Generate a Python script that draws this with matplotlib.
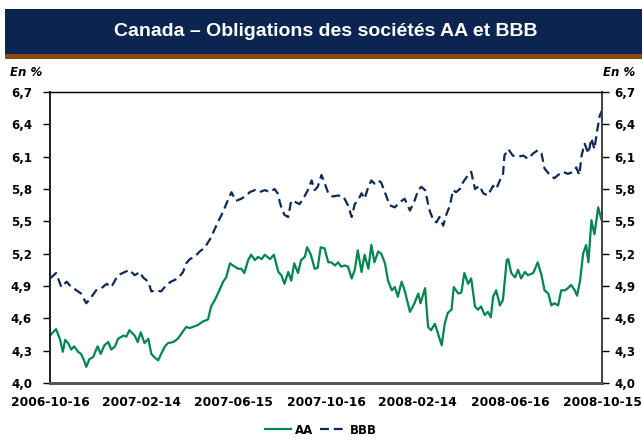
import numpy as np
import pandas as pd
import matplotlib
matplotlib.use("Agg")
import matplotlib.pyplot as plt
from matplotlib.patches import Rectangle
from matplotlib.lines import Line2D
from matplotlib.ticker import FuncFormatter

### DATA ###
start = pd.Timestamp("2006-10-16")

# days since 2006-10-16, values in %
aa_days = [0, 8, 13, 17, 20, 24, 28, 32, 37, 41, 45, 48, 52, 57, 63, 67, 72, 77, 81, 86,
           90, 97, 101, 105, 112, 116, 120, 125, 130, 134, 138, 143, 147, 152, 156, 163, 169, 174, 180, 185,
           189, 196, 202, 209, 213, 218, 224, 229, 233, 238, 242, 249, 253, 257, 262, 266, 271, 275, 280, 284,
           291, 296, 302, 306, 310, 315, 319, 323, 328, 332, 337, 340, 345, 350, 354, 358, 363, 368, 372, 377,
           381, 385, 390, 394, 399, 403, 407, 412, 416, 421, 425, 429, 434, 438, 443, 447, 452, 456, 460, 465,
           469, 476, 482, 487, 490, 496, 500, 504, 509, 513, 518, 522, 526, 531, 534, 540, 544, 548, 553, 557,
           562, 566, 570, 575, 579, 583, 586, 590, 595, 599, 604, 606, 610, 615, 619, 623, 628, 632, 639, 645,
           650, 654, 659, 663, 667, 672, 676, 681, 685, 689, 694, 697, 701, 705, 709, 712, 716, 720, 725, 729]
aa_vals = [4.44, 4.50, 4.41, 4.29, 4.40, 4.37, 4.31, 4.34, 4.29, 4.27, 4.21, 4.15, 4.22, 4.24, 4.34, 4.27, 4.35, 4.38, 4.31, 4.34,
           4.41, 4.44, 4.43, 4.49, 4.44, 4.38, 4.47, 4.37, 4.41, 4.27, 4.24, 4.21, 4.27, 4.34, 4.37, 4.38, 4.41, 4.46, 4.52, 4.51,
           4.52, 4.54, 4.57, 4.59, 4.71, 4.77, 4.86, 4.94, 4.98, 5.11, 5.09, 5.06, 5.06, 5.02, 5.14, 5.19, 5.14, 5.17, 5.15, 5.19,
           5.15, 5.19, 5.03, 5.00, 4.92, 5.03, 4.95, 5.11, 5.02, 5.14, 5.17, 5.26, 5.19, 5.06, 5.07, 5.26, 5.25, 5.12, 5.12, 5.09,
           5.12, 5.08, 5.09, 5.08, 4.97, 5.05, 5.23, 5.03, 5.19, 5.06, 5.28, 5.12, 5.22, 5.20, 5.11, 4.95, 4.86, 4.89, 4.80, 4.94,
           4.86, 4.66, 4.74, 4.83, 4.74, 4.88, 4.52, 4.49, 4.55, 4.46, 4.35, 4.55, 4.65, 4.68, 4.89, 4.83, 4.84, 5.02, 4.92, 4.97,
           4.71, 4.68, 4.71, 4.63, 4.66, 4.61, 4.80, 4.86, 4.72, 4.77, 5.14, 5.15, 5.02, 4.98, 5.05, 4.97, 5.03, 5.00, 5.02, 5.12,
           5.00, 4.86, 4.83, 4.72, 4.74, 4.72, 4.86, 4.86, 4.88, 4.91, 4.86, 4.81, 4.95, 5.20, 5.28, 5.12, 5.51, 5.38, 5.63, 5.52]

bbb_days = [0, 8, 15, 22, 28, 35, 41, 48, 55, 61, 68, 75, 81, 90, 99, 105, 112, 119, 123, 130,
            134, 141, 147, 154, 160, 169, 176, 180, 185, 191, 198, 205, 213, 216, 224, 229, 233, 240, 246, 253,
            260, 264, 271, 277, 284, 291, 297, 301, 305, 310, 315, 319, 324, 330, 335, 341, 346, 350, 354, 359,
            363, 368, 374, 381, 388, 394, 399, 403, 407, 412, 416, 421, 425, 429, 434, 438, 445, 449, 456, 463,
            469, 476, 482, 487, 491, 496, 502, 507, 511, 515, 520, 524, 529, 533, 537, 542, 546, 551, 557, 562,
            568, 573, 579, 586, 590, 595, 599, 601, 606, 612, 619, 626, 632, 639, 645, 650, 654, 661, 667, 672,
            678, 685, 692, 696, 700, 703, 707, 712, 716, 720, 724, 727, 730]
bbb_vals = [4.97, 5.02, 4.89, 4.94, 4.89, 4.86, 4.83, 4.74, 4.80, 4.86, 4.88, 4.92, 4.89, 5.00, 5.03, 5.05, 5.00, 5.03, 4.98, 4.94,
            4.85, 4.86, 4.85, 4.91, 4.94, 4.97, 5.03, 5.11, 5.15, 5.17, 5.22, 5.26, 5.35, 5.40, 5.52, 5.59, 5.66, 5.77, 5.69, 5.71,
            5.74, 5.77, 5.79, 5.77, 5.79, 5.77, 5.80, 5.76, 5.65, 5.56, 5.54, 5.69, 5.68, 5.66, 5.71, 5.79, 5.88, 5.79, 5.82, 5.93,
            5.86, 5.76, 5.73, 5.74, 5.73, 5.65, 5.54, 5.66, 5.69, 5.76, 5.71, 5.82, 5.88, 5.85, 5.88, 5.86, 5.73, 5.65, 5.63, 5.68,
            5.71, 5.60, 5.69, 5.79, 5.82, 5.79, 5.60, 5.51, 5.49, 5.54, 5.46, 5.56, 5.65, 5.79, 5.77, 5.80, 5.86, 5.91, 5.96, 5.80,
            5.83, 5.76, 5.74, 5.83, 5.80, 5.88, 5.93, 6.11, 6.17, 6.11, 6.10, 6.11, 6.08, 6.13, 6.16, 6.13, 5.99, 5.93, 5.90, 5.93,
            5.96, 5.94, 5.96, 6.00, 5.93, 6.11, 6.22, 6.13, 6.27, 6.17, 6.36, 6.48, 6.53]

tick_dates = ["2006-10-16", "2007-02-14", "2007-06-15", "2007-10-16",
              "2008-02-14", "2008-06-16", "2008-10-15"]
y_ticks = [4.0, 4.3, 4.6, 4.9, 5.2, 5.5, 5.8, 6.1, 6.4, 6.7]

title = "Canada – Obligations des sociétés AA et BBB"
unit = "En %"

### STYLE ###
NAVY = "#0b2550"
BROWN = "#8a4a0e"
GREEN = "#00874e"
LINE_NAVY = "#0d2a58"
DASH = (0, (4, 2.2))

W, H = 642, 440
fig = plt.figure(figsize=(W / 100, H / 100), dpi=100)

# title banner
fig.add_artist(Rectangle((5 / W, 1 - 54 / H), 1, 45 / H, transform=fig.transFigure,
                         facecolor=NAVY, edgecolor="none"))
fig.add_artist(Rectangle((5 / W, 1 - 59 / H), 1, 5 / H, transform=fig.transFigure,
                         facecolor=BROWN, edgecolor="none"))
fig.text(326 / W, 1 - 32 / H, title, color="white", fontsize=14, fontweight="bold",
         family="Liberation Sans", ha="center", va="center")

fig.text(10 / W, 1 - 73 / H, unit, fontsize=8.5, fontweight="bold", style="italic",
         ha="left", va="center")
fig.text(635 / W, 1 - 73 / H, unit, fontsize=8.5, fontweight="bold", style="italic",
         ha="right", va="center")

ax = fig.add_axes([50 / W, 1 - 383 / H, 552 / W, 291 / H])

aa_x = start + pd.to_timedelta(aa_days, unit="D")
bbb_x = start + pd.to_timedelta(bbb_days, unit="D")

ax.plot(aa_x, aa_vals, color=GREEN, lw=1.6, label="AA")
ax.plot(bbb_x, bbb_vals, color=LINE_NAVY, lw=1.6, linestyle=DASH, label="BBB")

ax.set_xlim(start, pd.Timestamp("2008-10-15"))
ax.set_ylim(4.0, 6.7)

ax.set_xticks(pd.to_datetime(tick_dates))
ax.set_xticklabels(tick_dates, fontsize=8.8, fontweight="bold")
ax.tick_params(axis="x", length=0, pad=9)

fmt = FuncFormatter(lambda v, p: f"{v:.1f}".replace(".", ","))
ax.set_yticks(y_ticks)
ax.yaxis.set_major_formatter(fmt)
ax.tick_params(axis="y", length=5, width=1, pad=8, labelsize=8.5)
for lab in ax.get_yticklabels():
    lab.set_fontweight("bold")

ax2 = ax.twinx()
ax2.set_ylim(4.0, 6.7)
ax2.set_yticks(y_ticks)
ax2.yaxis.set_major_formatter(fmt)
ax2.tick_params(axis="y", length=5, width=1, pad=4, labelsize=8.5)
for lab in ax2.get_yticklabels():
    lab.set_fontweight("bold")

for a in (ax, ax2):
    a.spines["left"].set_color("#222222")
    a.spines["left"].set_linewidth(1.3)
    a.spines["right"].set_color("#444444")
    a.spines["right"].set_linewidth(1.3)
    a.spines["top"].set_linewidth(0.9)
    a.spines["bottom"].set_color("#555555")
    a.spines["bottom"].set_linewidth(2)

handles = [Line2D([], [], color=GREEN, lw=1.6),
           Line2D([], [], color=LINE_NAVY, lw=1.6, linestyle=DASH)]
fig.legend(handles, ["AA", "BBB"], loc="center", bbox_to_anchor=(0.5, 1 - 430 / H),
           ncol=2, frameon=False, handlelength=2.2, handletextpad=0.3, columnspacing=0.6,
           prop={"size": 8.5, "weight": "bold"})

fig.savefig("out.png", dpi=100)
